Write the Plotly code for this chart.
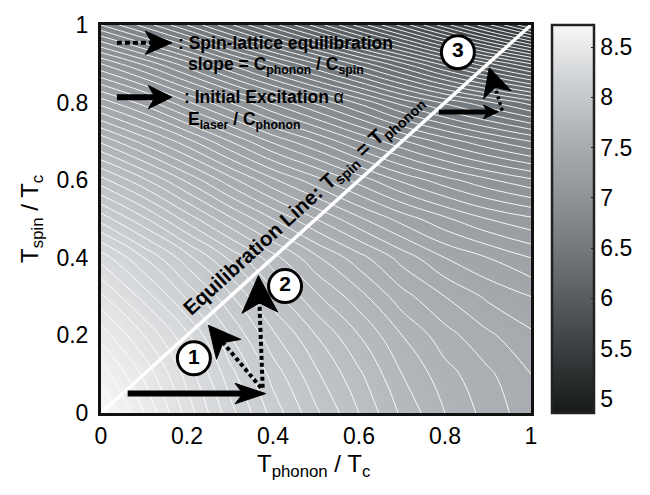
import plotly.graph_objects as go

# ---------------- data ----------------
t_phonon = [0.0, 0.1, 0.2, 0.3, 0.4, 0.5, 0.6, 0.7, 0.8, 0.9, 1.0]
t_spin = [0.0, 0.1, 0.2, 0.3, 0.4, 0.5, 0.6, 0.7, 0.8, 0.9, 1.0]
# rows: T_spin from 0 to 1, columns: T_phonon from 0 to 1
z_values = [
    [8.72, 8.55, 8.38, 8.22, 8.08, 7.96, 7.85, 7.74, 7.65, 7.58, 7.52],
    [8.63, 8.49, 8.33, 8.17, 8.03, 7.91, 7.81, 7.70, 7.62, 7.56, 7.50],
    [8.53, 8.40, 8.26, 8.10, 7.96, 7.85, 7.75, 7.65, 7.57, 7.51, 7.46],
    [8.41, 8.28, 8.14, 8.01, 7.87, 7.76, 7.67, 7.57, 7.50, 7.44, 7.40],
    [8.28, 8.15, 8.02, 7.89, 7.77, 7.66, 7.57, 7.48, 7.40, 7.35, 7.30],
    [8.08, 7.96, 7.83, 7.71, 7.60, 7.50, 7.41, 7.33, 7.26, 7.20, 7.16],
    [7.87, 7.76, 7.64, 7.52, 7.41, 7.32, 7.23, 7.14, 7.07, 7.01, 6.96],
    [7.64, 7.53, 7.42, 7.30, 7.19, 7.10, 7.00, 6.91, 6.83, 6.76, 6.70],
    [7.38, 7.28, 7.16, 7.05, 6.94, 6.84, 6.74, 6.63, 6.54, 6.46, 6.38],
    [7.10, 6.99, 6.87, 6.74, 6.62, 6.50, 6.38, 6.26, 6.13, 6.01, 5.90],
    [6.75, 6.63, 6.50, 6.36, 6.22, 6.08, 5.93, 5.78, 5.62, 5.46, 5.30],
]
z_range = [4.86, 8.72]
contour_levels = dict(start=5.0, end=8.7, size=0.05)
axis_ticks = [0, 0.2, 0.4, 0.6, 0.8, 1]
axis_ticktext = ["0", "0.2", "0.4", "0.6", "0.8", "1"]
cbar_ticks = [5, 5.5, 6, 6.5, 7, 7.5, 8, 8.5]
cbar_ticktext = ["5", "5.5", "6", "6.5", "7", "7.5", "8", "8.5"]
equil_line_x = [0.0, 1.0]
equil_line_y = [0.0, 1.0]
step_labels = ["1", "2", "3"]
step_x = [0.216, 0.428, 0.830]
step_y = [0.141, 0.327, 0.930]

FONT = "Liberation Sans, Arial, Helvetica, sans-serif"
W, H = 650, 495
ML, MR, MT, MB = 101, 114, 15, 82
PX = W - ML - MR   # pixels per x unit
PY = H - MT - MB   # pixels per y unit

colorscale = [
    [0.00, "#15191a"],
    [0.10, "#2b3031"],
    [0.25, "#4d5256"],
    [0.40, "#6f7479"],
    [0.55, "#8e9398"],
    [0.70, "#abafb3"],
    [0.85, "#cdd0d3"],
    [1.00, "#f7f7f7"],
]

fig = go.Figure()
fig.add_trace(go.Contour(
    x=t_phonon, y=t_spin, z=z_values,
    zmin=z_range[0], zmax=z_range[1], zauto=False,
    colorscale=colorscale, showscale=False,
    contours=dict(coloring="heatmap", showlines=True, **contour_levels),
    line=dict(color="white", width=0.9, smoothing=1.3),
    hoverinfo="skip",
))

# colour bar (smooth gradient, no contour lines)
fig.add_trace(go.Scatter(
    x=[None, None], y=[None, None], mode="markers", hoverinfo="skip",
    showlegend=False,
    marker=dict(
        color=z_range, cmin=z_range[0], cmax=z_range[1], colorscale=colorscale,
        size=1, showscale=True,
        colorbar=dict(
            tickvals=cbar_ticks, ticktext=cbar_ticktext,
            thickness=42, len=1, lenmode="fraction", y=0.5, yanchor="middle",
            x=1.048, xanchor="left", xpad=0, ypad=0,
            outlinewidth=2.5, outlinecolor="#222222",
            ticks="inside", ticklen=4, tickcolor="#222222",
            tickfont=dict(family=FONT, size=23, color="black"),
        ),
    ),
))

fig.add_trace(go.Scatter(
    x=equil_line_x, y=equil_line_y, mode="lines",
    line=dict(color="white", width=3.5), hoverinfo="skip", showlegend=False,
))


def arrow(tail, tip, head_len, head_w, notch, shaft_w, dash):
    dx = (tip[0] - tail[0]) * PX
    dy = (tip[1] - tail[1]) * PY
    n = (dx * dx + dy * dy) ** 0.5
    ux, uy = dx / n, dy / n
    qx, qy = -uy, ux

    def pt(a, b):
        return (tip[0] + (-a * ux + b * qx) / PX, tip[1] + (-a * uy + b * qy) / PY)

    c1 = pt(head_len, head_w / 2)
    c2 = pt(head_len, -head_w / 2)
    nb = pt(head_len - notch, 0)
    se = pt(head_len - notch - 1, 0)
    shaft = dict(type="line", xref="x", yref="y", x0=tail[0], y0=tail[1],
                 x1=se[0], y1=se[1], layer="above",
                 line=dict(color="black", width=shaft_w, dash=dash))
    path = "M{},{} L{},{} L{},{} L{},{} Z".format(
        tip[0], tip[1], c1[0], c1[1], nb[0], nb[1], c2[0], c2[1])
    head = dict(type="path", xref="x", yref="y", path=path, layer="above",
                fillcolor="black", line=dict(color="black", width=1))
    return [shaft, head]


arrows = [
    # tail, tip, head length, head width, notch, shaft width, dash
    ((0.062, 0.050), (0.383, 0.050), 31, 21, 8, 6, "solid"),
    ((0.372, 0.065), (0.250, 0.226), 32, 32, 9, 4, "4px,3px"),
    ((0.376, 0.065), (0.366, 0.354), 38, 36, 10, 4, "4px,3px"),
    ((0.786, 0.776), (0.924, 0.776), 15, 14, 4, 5, "solid"),
    ((0.933, 0.779), (0.903, 0.890), 29, 29, 8, 3.5, "3px,3px"),
    ((0.037, 0.954), (0.165, 0.954), 27, 24, 7, 4, "5px,3px"),
    ((0.037, 0.814), (0.165, 0.814), 24, 24, 7, 6, "solid"),
]
shapes = []
for a in arrows:
    shapes += arrow(*a)

fig.add_trace(go.Scatter(
    x=step_x, y=step_y, mode="markers+text",
    text=["<b>%s</b>" % s for s in step_labels],
    textposition="middle center",
    textfont=dict(family=FONT, size=21, color="black"),
    marker=dict(size=33, color="white", line=dict(color="black", width=3)),
    hoverinfo="skip", showlegend=False,
))

annotations = [
    dict(x=0.175, y=0.954, text="<b>: Spin-lattice equilibration</b>"),
    dict(x=0.198, y=0.895, text="<b>slope = C<sub>phonon</sub> / C<sub>spin</sub></b>"),
    dict(x=0.189, y=0.814, text="<b>: Initial Excitation</b> \u03b1"),
    dict(x=0.198, y=0.754, text="<b>E<sub>laser</sub> / C<sub>phonon</sub></b>"),
]
for a in annotations:
    a.update(xref="x", yref="y", xanchor="left", yanchor="middle", showarrow=False,
             font=dict(family=FONT, size=17.5, color="black"))

annotations.append(dict(
    x=0.472, y=0.535, xref="x", yref="y", showarrow=False, textangle=-42.5,
    text="<b>Equilibration Line: T<sub>spin</sub> = T<sub>phonon</sub></b>",
    font=dict(family=FONT, size=20.5, color="black")))
annotations.append(dict(
    x=0.495, y=-0.135, xref="paper", yref="paper", showarrow=False,
    xanchor="center", yanchor="middle",
    text="T<sub>phonon</sub> / T<sub>c</sub>",
    font=dict(family=FONT, size=24, color="black")))
annotations.append(dict(
    x=-0.163, y=0.5, xref="paper", yref="paper", showarrow=False,
    xanchor="center", yanchor="middle", textangle=-90,
    text="T<sub>spin</sub> / T<sub>c</sub>",
    font=dict(family=FONT, size=24, color="black")))

axis_common = dict(
    range=[0, 1], tickvals=axis_ticks, ticktext=axis_ticktext,
    showgrid=False, zeroline=False, showline=True, mirror=True,
    linewidth=3, linecolor="#111111", ticks="",
    tickfont=dict(family=FONT, size=23, color="black"),
)
fig.update_layout(
    width=W, height=H,
    margin=dict(l=ML, r=MR, t=MT, b=MB),
    paper_bgcolor="white", plot_bgcolor="white",
    xaxis=dict(axis_common, ticklabelstandoff=0),
    yaxis=dict(axis_common, ticklabelstandoff=5),
    shapes=shapes, annotations=annotations,
    showlegend=False,
    font=dict(family=FONT),
)
fig.write_html("out.html")
